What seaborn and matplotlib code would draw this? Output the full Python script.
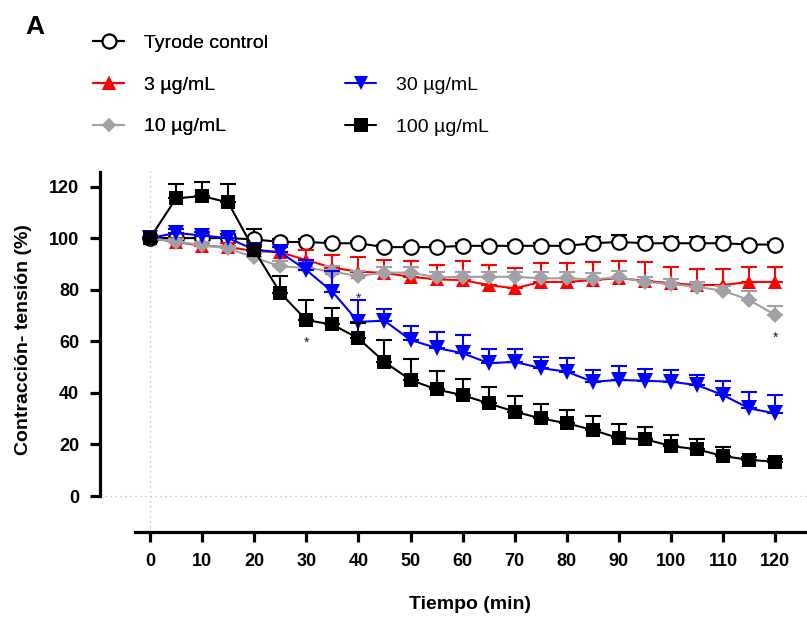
import numpy as np
import matplotlib
matplotlib.use("Agg")
import matplotlib.pyplot as plt
from matplotlib.lines import Line2D
import seaborn as sns

# time points (min)
tiempo = [0, 5, 10, 15, 20, 25, 30, 35, 40, 45, 50, 55, 60,
          65, 70, 75, 80, 85, 90, 95, 100, 105, 110, 115, 120]

# mean contraction (%) per group
control = [100, 100, 100, 100, 99.5, 98.5, 98.5, 98, 98, 96.5, 96.5, 96.5, 97,
           97, 97, 97, 97, 98, 98.5, 98, 98, 98, 98, 97.5, 97.5]
dosis_3 = [100, 98.5, 97, 96.5, 95, 94.5, 91.5, 88.5, 87, 86.5, 85, 84, 83.7,
           81.8, 80.5, 83, 83, 83.7, 84.5, 83.4, 82.5, 81.8, 81.8, 83, 83]
dosis_10 = [100, 98.6, 97.3, 96, 92.5, 89, 88.5, 87, 85.3, 86.6, 86.6, 84.8, 85,
            85, 85, 84.4, 84.4, 84, 84.8, 83, 82.2, 81.1, 79.6, 76, 70.2]
dosis_30 = [100, 102, 101, 100, 95.5, 94.5, 87.6, 79.2, 67.5, 68, 60.5, 57.4, 55.4,
            51.5, 52, 49.6, 48.2, 44.3, 45, 44.7, 44.3, 43, 39.1, 34, 32]
dosis_100 = [100, 115.4, 116.3, 113.8, 95.3, 78.8, 68.2, 66.5, 61.1, 52, 45, 41.3, 39.1,
             35.9, 32.7, 30.1, 28.2, 25.6, 22.4, 22, 19.4, 18.1, 15.5, 14, 13.3]

# SEM (drawn upward only)
sem_control = [0, 0.5, 0.5, 0.5, 4, 1, 1, 1, 1, 1, 1, 1, 1,
               1, 1, 1, 1, 2.5, 2.8, 2.5, 2.5, 2.5, 2.5, 1, 1]
sem_3 = [0, 1.5, 1.5, 1.5, 1.5, 2, 4, 5, 5.5, 5, 6, 5.5, 7.3,
         7.7, 7.8, 7.4, 7.4, 7, 6.5, 7.4, 6.4, 6.2, 6.2, 5.9, 5.9]
sem_10 = [0, 1, 1, 1, 1.5, 2, 2, 2, 2, 2, 2, 2, 2,
          2, 2, 2.5, 2.5, 2.6, 2.5, 2, 2, 2, 2, 3.5, 3.4]
sem_30 = [0, 1.5, 1.5, 1.5, 1.5, 2, 4, 8, 8.5, 4.5, 5.5, 6.2, 7,
          5.5, 5, 4.4, 5.3, 4.5, 5.5, 4.5, 4.5, 4, 5.6, 6.4, 7]
sem_100 = [0, 5.5, 5.3, 7, 2, 6.5, 7.8, 6.5, 6, 8.5, 8, 7, 6.2,
           6.2, 6.1, 5.6, 5.1, 5.5, 5.5, 4.6, 4.2, 3.9, 3.6, 1, 1]

etiquetas = ["Tyrode control", "3 µg/mL", "10 µg/mL", "30 µg/mL", "100 µg/mL"]

# significance marks
ast_x = [30, 40, 120]
ast_y = [59.5, 76.5, 61.5]

sns.set_style("ticks")
plt.rcParams["font.family"] = ["Liberation Sans", "DejaVu Sans"]
plt.rcParams["text.color"] = "black"
plt.rcParams["axes.labelcolor"] = "black"
plt.rcParams["xtick.color"] = "black"
plt.rcParams["ytick.color"] = "black"

W, H = 807, 617
fig = plt.figure(figsize=(W / 100, H / 100), dpi=100)
ax = fig.add_axes([100 / W, (H - 532) / H, 707 / W, (532 - 170) / H])

series = [
    (control, sem_control, dict(color="black", marker="o", mfc="white", mec="black", ms=10.5, mew=1.5)),
    (dosis_3, sem_3, dict(color="#ff0000", marker="^", mfc="#ff0000", mec="#ff0000", ms=10.5, mew=0)),
    (dosis_10, sem_10, dict(color="#a0a0a5", marker="D", mfc="#a0a0a5", mec="#a0a0a5", ms=8, mew=0)),
    (dosis_30, sem_30, dict(color="#0000ff", marker="v", mfc="#0000ff", mec="#0000ff", ms=11, mew=0)),
    (dosis_100, sem_100, dict(color="black", marker="s", mfc="black", mec="black", ms=10.5, mew=0)),
]

t = np.array(tiempo)
handles = []
for i, (vals, sem, st) in enumerate(series):
    vals = np.array(vals)
    sem = np.array(sem)
    ax.errorbar(t, vals, yerr=[np.zeros_like(sem), sem], fmt="none",
                ecolor=st["color"], elinewidth=1.5, capsize=5.5, capthick=1.5,
                zorder=3 + 2 * i)
    sns.lineplot(x=t, y=vals, ax=ax, color=st["color"], marker=st["marker"],
                 markerfacecolor=st["mfc"], markeredgecolor=st["mec"],
                 markersize=st["ms"], markeredgewidth=st["mew"], linewidth=1.5,
                 legend=False, zorder=4 + 2 * i)
    handles.append(Line2D([], [], color=st["color"], marker=st["marker"],
                          markerfacecolor=st["mfc"], markeredgecolor=st["mec"],
                          markersize=st["ms"] * 0.95, markeredgewidth=st["mew"],
                          linewidth=1.5))

for x, y in zip(ast_x, ast_y):
    ax.text(x, y, "*", ha="center", va="center", fontsize=10, color="#222222")

# axis geometry (Prism-like offset axes)
ax.set_xlim(-9.6, 126.1)
ax.set_ylim(-13.95, 126.4)
ax.axvline(0, color="#b8b8b8", linestyle=(0, (1, 3)), linewidth=0.9, zorder=1)
ax.axhline(0, color="#b8b8b8", linestyle=(0, (1, 3)), linewidth=0.9, zorder=1)

ax.set_xticks(range(0, 121, 10))
ax.set_yticks(range(0, 121, 20))
sns.despine(ax=ax, top=True, right=True)
ax.spines["left"].set_bounds(0, 125.6)
ax.spines["bottom"].set_bounds(-2.9, 126.1)
for s in ("left", "bottom"):
    ax.spines[s].set_linewidth(2.3)
    ax.spines[s].set_color("black")
ax.tick_params(axis="both", width=2.3, length=7, color="black",
               labelsize=13, pad=8)
for lab in ax.get_xticklabels() + ax.get_yticklabels():
    lab.set_fontweight("bold")

ax.set_xlabel("Tiempo (min)", fontsize=14, fontweight="bold")
ax.set_ylabel("Contracción- tensión (%)", fontsize=14, fontweight="bold")
ax.xaxis.set_label_coords((470 - 100) / 707, -(596 - 532) / (532 - 170))
ax.yaxis.set_label_coords(-(100 - 32) / 707, (532 - 340) / (532 - 170))

# legend: two columns, second column starts on row two
leg_kw = dict(loc="upper left", frameon=False, fontsize=14, handlelength=1.6,
              handletextpad=1.0, labelspacing=1.25, borderpad=0, borderaxespad=0)
leg1 = fig.legend(handles[:3], etiquetas[:3],
                  bbox_to_anchor=(93 / W, 1 - 34 / H), **leg_kw)
fig.add_artist(leg1)
fig.legend(handles[3:], etiquetas[3:],
           bbox_to_anchor=(345 / W, 1 - 76 / H), **leg_kw)

fig.text(35 / W, 1 - 27 / H, "A", fontsize=19, fontweight="bold",
         ha="center", va="center")

fig.savefig("out.png", dpi=100)
